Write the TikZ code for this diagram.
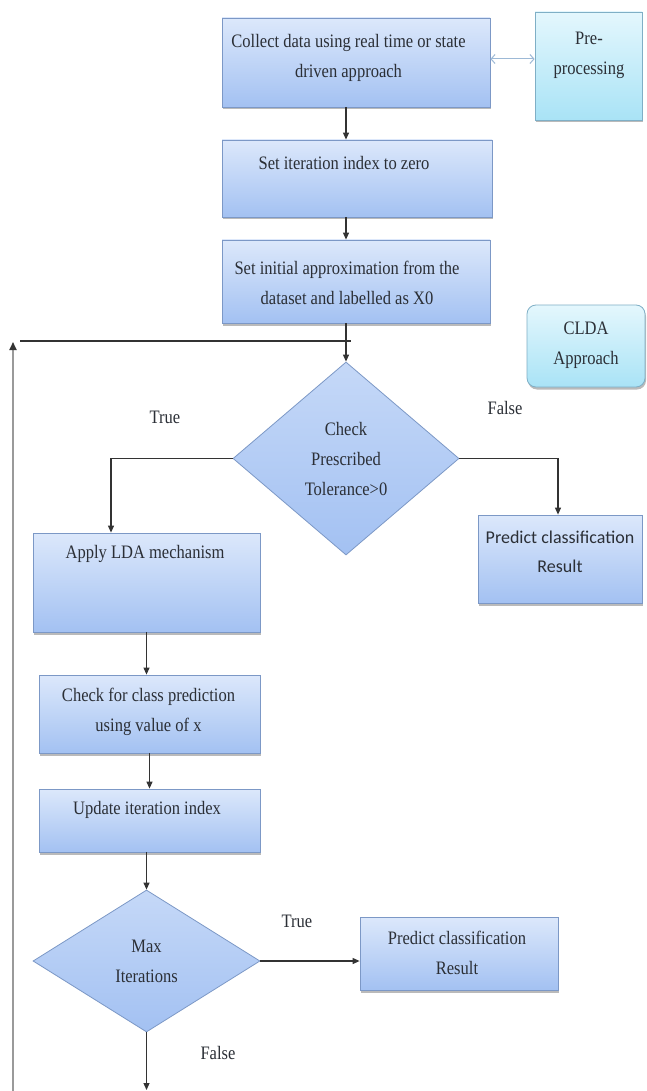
\documentclass[tikz,border=0pt]{standalone}
\usepackage{fontspec}
\setmainfont{Liberation Serif}[FakeStretch=0.87]
\newfontfamily\calfont{Carlito}
\usetikzlibrary{shapes.geometric,shadows,arrows.meta}
\definecolor{bluetop}{HTML}{DCE8FB}
\definecolor{bluebot}{HTML}{A3C1F2}
\definecolor{blueline}{HTML}{7C98C6}
\definecolor{cyantop}{HTML}{E4F7FD}
\definecolor{cyanbot}{HTML}{A9E3F6}
\definecolor{cyanline}{HTML}{7FAFC6}
\definecolor{txtcol}{HTML}{2B2F36}
\definecolor{conncol}{HTML}{333333}
\definecolor{dblcol}{HTML}{9DB9D6}
\definecolor{loopcol}{HTML}{9A9A9A}
\newcommand\mytext{\fontsize{19}{30}\selectfont}
\tikzset{
  boxnode/.style={rectangle, draw=blueline, line width=0.8pt, top color=bluetop, bottom color=bluebot,
    drop shadow={shadow xshift=1pt, shadow yshift=-2.5pt, opacity=0.45, fill=black!60}, inner sep=0pt},
  cyannode/.style={boxnode, draw=cyanline, top color=cyantop, bottom color=cyanbot},
  decnode/.style={diamond, draw=blueline, line width=0.8pt, top color=bluetop!60!bluebot, bottom color=bluebot,
    inner sep=0pt, align=center, font=\mytext, text=txtcol},
  txt/.style={align=center, font=\mytext, text=txtcol, inner sep=0pt},
  calt/.style={align=center, font=\calfont\fontsize{18}{29}\selectfont, text=txtcol, inner sep=0pt},
  conn/.style={draw=conncol, line width=1.1pt, -{Triangle[length=7pt,width=6pt]}},
  plainline/.style={draw=conncol, line width=1.1pt},
  loopline/.style={draw=loopcol, line width=1.8pt, -{Triangle[length=8pt,width=7pt,color=conncol]}},
  dbl/.style={draw=dblcol, line width=1pt, {Straight Barb[length=4pt,width=9pt]}-{Straight Barb[length=4pt,width=9pt]}},
}
\begin{document}
\begin{tikzpicture}[x=1pt,y=-1pt]
\useasboundingbox (0,0) rectangle (646,1091);
\fill[white] (0,0) rectangle (646,1091);

% boxes
\node[boxnode, minimum width=268pt, minimum height=89pt] (b1) at (356,62.5) {};
\node[cyannode, minimum width=107pt, minimum height=108pt] (pre) at (588.5,66) {};
\node[boxnode, minimum width=270pt, minimum height=77pt] (b2) at (357,178.5) {};
\node[boxnode, minimum width=268pt, minimum height=83pt] (b3) at (356,281.5) {};
\node[cyannode, rounded corners=9pt, minimum width=118pt, minimum height=82pt] (clda) at (586,346) {};
\node[decnode, minimum width=226pt, minimum height=193pt] (d1) at (346,458.5) {Check\\Prescribed\\Tolerance>0};
\node[boxnode, minimum width=227pt, minimum height=99pt] (lda) at (146.5,582.5) {};
\node[boxnode, minimum width=164pt, minimum height=88pt] (p1) at (560,559) {};
\node[boxnode, minimum width=221pt, minimum height=78pt] (chk) at (149.5,714) {};
\node[boxnode, minimum width=221pt, minimum height=63pt] (upd) at (149.5,820.5) {};
\node[decnode, minimum width=227pt, minimum height=142pt] (d2) at (146.5,961) {Max\\Iterations};
\node[boxnode, minimum width=198pt, minimum height=73pt] (p2) at (459,953.5) {};

% texts
\node[txt] (b1t) at (348.5,58) {Collect data using real time or state\\driven approach};
\node[txt] (pret) at (589,55) {Pre-\\processing};
\node[txt] (b2t) at (344,163) {Set iteration index to zero};
\node[txt] (b3t) at (347,283) {Set initial approximation from the\\dataset and labelled as X0};
\node[txt] (cldat) at (586,345) {CLDA\\Approach};
\node[txt] (ldat) at (145,554) {Apply LDA mechanism};
\node[calt] (p1t) at (560,552) {Predict classification\\Result};
\node[txt] (chkt) at (148.5,712) {Check for class prediction\\using value of x};
\node[txt] (updt) at (147,810) {Update iteration index};
\node[txt] (p2t) at (457,953) {Predict classification\\Result};

% labels
\node[txt] (lt1) at (165,417) {True};
\node[txt] (lf1) at (505,408) {False};
\node[txt] (lt2) at (297,921) {True};
\node[txt] (lf2) at (218,1053) {False};

% connectors
\draw[dbl] ([yshift=3.5pt]b1.east) -- ([yshift=3.5pt]b1.east -| pre.west);
\draw[conn] (b1.south -| d1.north) -- (b2.north -| d1.north);
\draw[conn] (b2.south -| d1.north) -- (b3.north -| d1.north);
\draw[conn] (b3.south -| d1.north) -- (d1.north);
\coordinate (loopbot) at (13,1091);
\coordinate (loopcorner) at (13,342);
\coordinate (loopjoin) at (351,341);
\draw[loopline] (loopbot) -- (loopcorner);
\draw[plainline] (20,341) -- (loopjoin);
\draw[conn] (d1.west) -| ([xshift=-35.5pt]lda.north);
\draw[conn] (d1.east) -| ([xshift=-2pt]p1.north);
\draw[conn] (lda.south) -- (lda.south |- chk.north);
\draw[conn] (chk.south) -- (chk.south |- upd.north);
\draw[conn] (d2.north |- upd.south) -- (d2.north);
\draw[conn] (d2.east) -- (d2.east -| p2.west);
\coordinate (endf) at (146.5,1090);
\draw[conn] (d2.south) -- (endf);
\end{tikzpicture}
\end{document}
